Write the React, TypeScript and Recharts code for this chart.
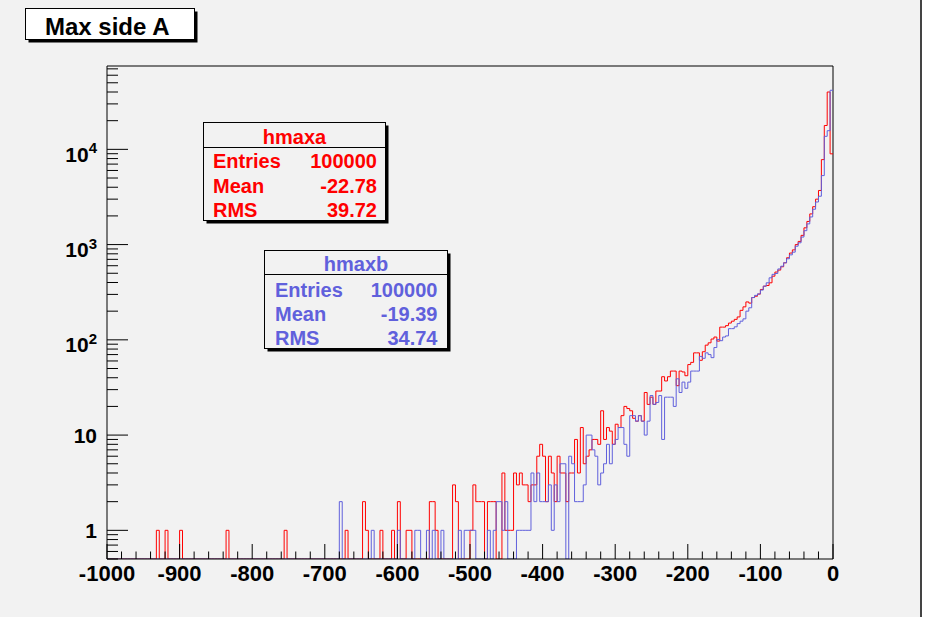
import { ComposedChart, Line, XAxis, YAxis, ReferenceLine } from 'recharts'

// histogram range: 250 bins of 4 between -1000 and 0
const X_MIN = -1000
const X_MAX = 0
const BIN_WIDTH = 4
const Y_MIN = 0.5
const Y_MAX = 75000

// bin contents, hmaxa (red)
const hmaxa = [
  0, 0, 0, 0, 0, 0, 0, 0, 0, 0,
  0, 0, 0, 0, 0, 0, 0, 1, 0, 0,
  1, 0, 0, 0, 0, 1, 0, 0, 0, 0,
  0, 0, 0, 0, 0, 0, 0, 0, 0, 0,
  0, 1, 0, 0, 0, 0, 0, 0, 0, 0,
  0, 0, 0, 0, 0, 0, 0, 0, 0, 0,
  0, 1, 0, 0, 0, 0, 0, 0, 0, 0,
  0, 0, 0, 0, 0, 0, 0, 0, 0, 0,
  0, 0, 1, 0, 0, 0, 0, 0, 2, 1,
  0, 0, 0, 0, 1, 0, 0, 0, 1, 0,
  2, 0, 0, 1, 1, 0, 0, 0, 0, 0,
  0, 2, 2, 1, 0, 0, 0, 0, 0, 3,
  2, 0, 0, 0, 0, 1, 3, 2, 2, 2,
  0, 2, 2, 2, 0, 0, 4, 1, 1, 1,
  4, 3, 4, 3, 3, 2, 3, 3, 6, 8,
  6, 2, 6, 4, 2, 6, 4, 4, 2, 4,
  4, 9, 4, 12, 5, 6, 7, 9, 9, 8,
  18, 9, 12, 11, 8, 13, 12, 16, 20, 19,
  18, 15, 14, 16, 14, 28, 21, 25, 21, 29,
  29, 41, 37, 41, 47, 47, 33, 47, 46, 42,
  55, 58, 73, 73, 61, 75, 88, 93, 102, 107,
  97, 136, 136, 141, 150, 157, 164, 174, 204, 222,
  250, 243, 278, 287, 302, 338, 366, 372, 397, 466,
  515, 540, 585, 644, 727, 815, 880, 1000, 1080, 1250,
  1500, 1750, 2100, 2500, 3000, 3700, 7800, 17800, 40000, 8970,
]

// bin contents, hmaxb (blue)
const hmaxb = [
  0, 0, 0, 0, 0, 0, 0, 0, 0, 0,
  0, 0, 0, 0, 0, 0, 0, 0, 0, 0,
  0, 0, 0, 0, 0, 0, 0, 0, 0, 0,
  0, 0, 0, 0, 0, 0, 0, 0, 0, 0,
  0, 0, 0, 0, 0, 0, 0, 0, 0, 0,
  0, 0, 0, 0, 0, 0, 0, 0, 0, 0,
  0, 0, 0, 0, 0, 0, 0, 0, 0, 0,
  0, 0, 0, 0, 0, 0, 0, 0, 0, 0,
  2, 0, 0, 0, 0, 0, 0, 0, 0, 0,
  0, 1, 0, 0, 0, 0, 0, 0, 0, 0,
  1, 0, 0, 0, 0, 0, 1, 1, 0, 0,
  1, 0, 1, 0, 0, 1, 0, 0, 0, 0,
  0, 1, 0, 1, 1, 1, 1, 0, 0, 0,
  0, 1, 0, 1, 2, 2, 1, 2, 0, 0,
  0, 1, 1, 1, 1, 1, 4, 2, 4, 2,
  2, 2, 3, 1, 3, 2, 5, 5, 0, 6,
  5, 2, 2, 2, 3, 10, 10, 7, 6, 3,
  4, 5, 8, 5, 8, 9, 12, 12, 8, 6,
  16, 16, 14, 16, 14, 10, 14, 26, 21, 22,
  26, 9, 25, 25, 25, 20, 39, 28, 36, 31,
  36, 47, 47, 47, 67, 64, 73, 70, 65, 83,
  101, 98, 107, 110, 131, 131, 137, 148, 157, 166,
  200, 217, 278, 293, 304, 333, 366, 397, 448, 487,
  497, 555, 593, 644, 710, 780, 833, 962, 1044, 1200,
  1400, 1650, 1950, 2350, 2800, 3220, 5300, 13700, 15700, 41700,
]

const statLabels = ['Entries', 'Mean', 'RMS']
const statsA = ['100000', '-22.78', '39.72']
const statsB = ['100000', '-19.39', '34.74']

const RED = '#ff0000'
const BLUE = '#6060dc'
const BG = '#f2f2f2'
const FONT = '"Liberation Sans", Arial, Helvetica, sans-serif'

const xTicks: number[] = []
for (let v = X_MIN; v <= X_MAX; v += 20) xTicks.push(v)

const yTicks: number[] = []
for (let d = -1; d <= 4; d++) {
  for (let m = 1; m <= 9; m++) {
    const v = m * Math.pow(10, d)
    if (v >= Y_MIN && v <= Y_MAX) yTicks.push(v)
  }
}

const data = hmaxa.map((a, i) => ({
  x: X_MIN + i * BIN_WIDTH,
  a: Math.max(a, Y_MIN),
  b: Math.max(hmaxb[i], Y_MIN),
}))
data.push({ x: X_MAX, a: data[data.length - 1].a, b: data[data.length - 1].b })

function XTick(props: any) {
  const { x, y, payload } = props
  const v = payload.value
  const major = v % 100 === 0
  return (
    <g>
      <line x1={x} x2={x} y1={y} y2={y - (major ? 15 : 7.5)} stroke="#000" />
      {major && (
        <text x={x} y={y + 22} textAnchor="middle" fontFamily={FONT} fontWeight="bold" fontSize={22} fill="#000">
          {v}
        </text>
      )}
    </g>
  )
}

function YTick(props: any) {
  const { x, y, payload } = props
  const v = payload.value
  const lg = Math.log10(v)
  const exp = Math.round(lg)
  const major = Math.abs(lg - exp) < 1e-6
  let label = null
  if (major && exp <= 1) {
    label = (
      <text x={x - 10} y={y + 7.5} textAnchor="end" fontFamily={FONT} fontWeight="bold" fontSize={21} fill="#000">
        {exp === 0 ? '1' : '10'}
      </text>
    )
  } else if (major) {
    label = (
      <text x={x - 10} y={y + 12.5} textAnchor="end" fontFamily={FONT} fontWeight="bold" fontSize={21} fill="#000">
        10<tspan dy={-8.5} fontSize={15}>{exp}</tspan>
      </text>
    )
  }
  return (
    <g>
      <line x1={x} x2={x + (major ? 21 : 11)} y1={y} y2={y} stroke="#000" />
      {label}
    </g>
  )
}

function StatBox(props: {
  x: number; y: number; w: number; h: number; sep: number
  color: string; name: string; values: string[]; labelX: number; valueX: number; baselines: number[]
}) {
  const { x, y, w, h, sep, color, name, values, labelX, valueX, baselines } = props
  return (
    <g fontFamily={FONT} fontWeight="bold" fontSize={20} fill={color}>
      <rect x={x + 3} y={y + 3} width={w} height={h} fill="#000" />
      <rect x={x} y={y} width={w} height={h} fill={BG} stroke="#000" strokeWidth={1} />
      <line x1={x} x2={x + w} y1={sep} y2={sep} stroke="#000" />
      <text x={x + w / 2} y={sep - 4} textAnchor="middle">{name}</text>
      {statLabels.map((l, i) => (
        <g key={l}>
          <text x={labelX} y={baselines[i]}>{l}</text>
          <text x={valueX} y={baselines[i]} textAnchor="end">{values[i]}</text>
        </g>
      ))}
    </g>
  )
}

export default function App() {
  return (
    <div style={{ position: 'absolute', left: 0, top: 0, width: 925, height: 617, background: '#fff' }}>
      <div style={{ position: 'absolute', left: 0, top: 0, width: 920, height: 617, background: BG }} />
      <div style={{ position: 'absolute', left: 920, top: 0, width: 2, height: 617, background: '#444' }} />
      <div style={{ position: 'absolute', left: 0, top: 0 }}>
        <ComposedChart
          width={925}
          height={617}
          data={data}
          margin={{ top: 66, right: 92, bottom: 0, left: 0 }}
        >
          <XAxis
            dataKey="x"
            type="number"
            domain={[X_MIN, X_MAX]}
            allowDataOverflow
            ticks={xTicks}
            interval={0}
            tickSize={0}
            tickMargin={0}
            tickLine={false}
            tick={<XTick />}
            axisLine={{ stroke: '#000' }}
            height={58}
          />
          <YAxis
            type="number"
            scale="log"
            domain={[Y_MIN, Y_MAX]}
            allowDataOverflow
            ticks={yTicks}
            interval={0}
            tickSize={0}
            tickMargin={0}
            tickLine={false}
            tick={<YTick />}
            axisLine={{ stroke: '#000' }}
            width={107}
          />
          <ReferenceLine y={Y_MAX} stroke="#000" />
          <ReferenceLine x={X_MAX} stroke="#000" />
          <Line
            dataKey="a"
            type="stepAfter"
            stroke={RED}
            strokeWidth={1}
            dot={false}
            isAnimationActive={false}
          />
          <Line
            dataKey="b"
            type="stepAfter"
            stroke={BLUE}
            strokeWidth={1}
            dot={false}
            isAnimationActive={false}
          />
        </ComposedChart>
      </div>
      <svg width={925} height={617} style={{ position: 'absolute', left: 0, top: 0, pointerEvents: 'none' }}>
        <rect x={28.5} y={11.5} width={169} height={31} fill="#000" />
        <rect x={25.5} y={8.5} width={169} height={31} fill="#fff" stroke="#000" />
        <text x={45} y={35} fontFamily={FONT} fontWeight="bold" fontSize={24} fill="#000">Max side A</text>
        <StatBox
          x={203.5} y={122.5} w={182} h={98} sep={147.5}
          color={RED} name="hmaxa" values={statsA}
          labelX={213} valueX={377} baselines={[168, 192.5, 216.5]}
        />
        <StatBox
          x={264.5} y={250.5} w={183} h={98} sep={274.5}
          color={BLUE} name="hmaxb" values={statsB}
          labelX={275} valueX={437.5} baselines={[296.5, 320.5, 344.5]}
        />
      </svg>
    </div>
  )
}
